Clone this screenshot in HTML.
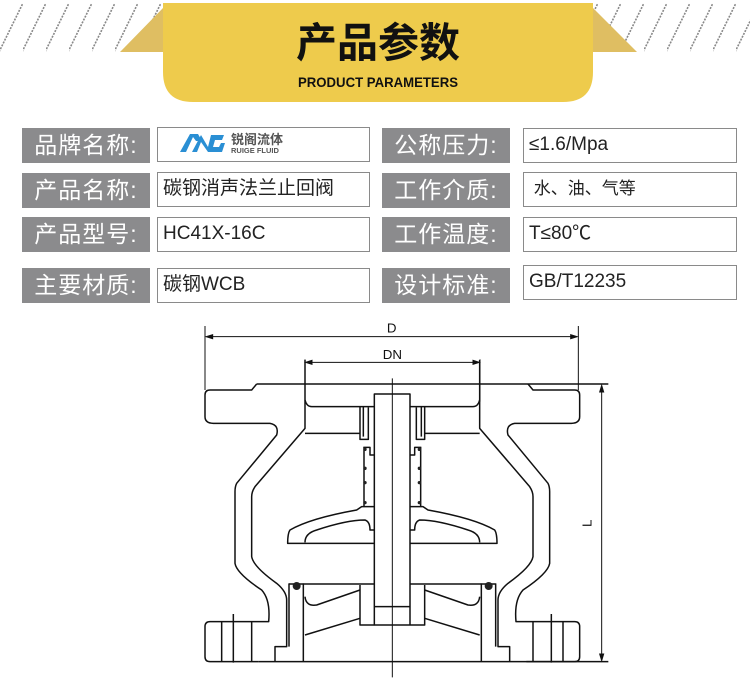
<!DOCTYPE html>
<html><head><meta charset="utf-8"><style>
body{margin:0;width:750px;height:695px;background:#fff;position:relative;overflow:hidden;font-family:"Liberation Sans","Noto Sans CJK SC",sans-serif}
.a{position:absolute}
.lab{position:absolute;background:#8b8b8d;color:#fff;font-size:23px;line-height:35px;height:35px;width:128px;text-align:center;letter-spacing:1px}
.val{position:absolute;border:1.5px solid #8a8a8a;box-sizing:border-box;height:35px;font-size:19px;line-height:32px;padding-left:5px;color:#222}
</style></head><body>
<svg class="a" style="left:0;top:0" width="750" height="110">
<defs><pattern id="st" width="23" height="49" patternUnits="userSpaceOnUse" x="0" y="3"><line x1="-1" y1="49" x2="23" y2="0" stroke="#888" stroke-width="1.6" stroke-dasharray="2 1.2"/></pattern></defs>
<rect x="0" y="3" width="750" height="49" fill="url(#st)"/>
<polygon points="120,52 163,8 163,52" fill="#dfbe62"/>
<polygon points="637,52 593,8 593,52" fill="#dfbe62"/>
<path d="M163,3 H593 V72 Q593,102 563,102 H193 Q163,102 163,72 Z" fill="#eecb4c"/>
<text x="378" y="57" text-anchor="middle" font-size="41" font-weight="bold" font-family="Noto Sans CJK SC,sans-serif" fill="#111">产品参数</text>
<text x="378" y="87" text-anchor="middle" font-size="14" font-weight="bold" fill="#111" textLength="160" lengthAdjust="spacingAndGlyphs">PRODUCT PARAMETERS</text>
</svg>
<div class="lab" style="left:22px;top:128px">品牌名称:</div>
<div class="lab" style="left:22px;top:173px">产品名称:</div>
<div class="lab" style="left:22px;top:217px">产品型号:</div>
<div class="lab" style="left:22px;top:268px">主要材质:</div>
<div class="lab" style="left:382px;top:128px">公称压力:</div>
<div class="lab" style="left:382px;top:173px">工作介质:</div>
<div class="lab" style="left:382px;top:217px">工作温度:</div>
<div class="lab" style="left:382px;top:268px">设计标准:</div>
<div class="val" style="left:157px;top:127px;width:213px"></div>
<svg class="a" style="left:178px;top:131px" width="125" height="24">
<path d="M2,21 L12,3 H20 L24,10 L18,10 L15,6 L8,21 Z" fill="#2a8fd4"/>
<path d="M14,21 L23,4 L30,16 L33,4 H46 L44,9 H37 L35,16 H41 L43,12 H47 L44,21 H30 L23,11 L19,21 Z" fill="#2a8fd4"/>
<text x="53" y="13" font-size="13" fill="#555" font-weight="bold" font-family="Noto Sans CJK SC,sans-serif">锐阁流体</text>
<text x="53" y="22" font-size="7.5" fill="#555" font-weight="bold">RUIGE FLUID</text>
</svg>
<div class="val" style="left:157px;top:172px;width:213px">碳钢消声法兰止回阀</div>
<div class="val" style="left:157px;top:217px;width:213px">HC41X-16C</div>
<div class="val" style="left:157px;top:268px;width:213px">碳钢WCB</div>
<div class="val" style="left:523px;top:128px;width:214px">≤1.6/Mpa</div>
<div class="val" style="left:523px;top:172px;width:214px;font-size:17px">&nbsp;水、油、气等</div>
<div class="val" style="left:523px;top:217px;width:214px">T≤80℃</div>
<div class="val" style="left:523px;top:265px;width:214px">GB/T12235</div>
<svg class="a" style="left:190px;top:310px" width="430" height="385" viewBox="0 0 1290 1155">
<g fill="none" stroke="#111" stroke-width="4.5" stroke-linejoin="round">
<g id="h">
<path d="M200,222 L185,240 H60 Q45,240 45,255 V320 Q45,340 70,340 H240 Q268,345 260,375 L140,520 Q135,530 135,545 V760 Q140,790 215,840 Q242,870 236,935 H60 Q45,935 45,950 V1040 Q45,1055 60,1055 H190 L205,1055"/>
<path d="M95,935 V1055 M185,935 V1055 M130,912 V1058"/>
<path d="M345,150 V355 L195,530 Q185,545 185,560 V740 Q190,770 260,820 Q290,845 290,870 V1010 H255 V1055"/>
<path d="M297,820 V1010 M340,820 V1055"/>
<path d="M345,270 Q350,290 365,290 H553"/>
<path d="M345,370 H510"/>
<path d="M510,290 V388 H535 V292 M520,290 V380"/>
<path d="M520,412 H540 V435 H553"/>
<path d="M522,412 V590"/>
<path d="M553,590 L515,590 L500,600 Q360,625 300,660 Q293,670 293,700 H553"/>
<path d="M345,697 Q345,670 380,660 Q470,630 525,630 Q540,635 540,660 H553"/>
<path d="M297,822 H553"/>
<path d="M345,860 Q348,890 380,885 L510,840"/>
<path d="M345,975 L510,925"/>
<path d="M510,825 V945 H553"/>
<path d="M553,890 H607"/>
</g>
<use href="#h" transform="translate(1214,0) scale(-1,1)"/>
<path d="M200,222 H1255 M205,1055 H1255"/>
<rect x="553" y="252" width="107" height="693"/>
</g>
<g fill="#222">
<circle cx="320" cy="828" r="12"/><circle cx="896" cy="828" r="12"/>
<circle cx="525" cy="418" r="5"/><circle cx="525" cy="475" r="5"/><circle cx="525" cy="518" r="5"/><circle cx="525" cy="578" r="5"/>
<circle cx="688" cy="418" r="5"/><circle cx="688" cy="475" r="5"/><circle cx="688" cy="518" r="5"/><circle cx="688" cy="578" r="5"/>
</g>
<g stroke="#111" stroke-width="3" fill="#111">
<line x1="607" y1="205" x2="607" y2="1102"/>
<line x1="45" y1="48" x2="45" y2="240"/><line x1="1165" y1="48" x2="1165" y2="240"/>
<line x1="50" y1="80" x2="1160" y2="80"/>
<polygon points="48,80 68,74 68,86"/><polygon points="1162,80 1142,74 1142,86"/>
<line x1="345" y1="148" x2="345" y2="200"/><line x1="870" y1="148" x2="870" y2="275"/>
<line x1="348" y1="157" x2="867" y2="157"/>
<polygon points="347,157 366,151 366,163"/><polygon points="868,157 849,151 849,163"/>
<line x1="1235" y1="228" x2="1235" y2="1050"/>
<polygon points="1235,226 1229,246 1241,246"/><polygon points="1235,1052 1229,1032 1241,1032"/>
</g>
<text x="605" y="68" text-anchor="middle" font-size="40" fill="#111">D</text>
<text x="607" y="147" text-anchor="middle" font-size="40" fill="#111">DN</text>
<text transform="translate(1205,640) rotate(-90)" text-anchor="middle" font-size="40" fill="#111">L</text>
</svg>
</body></html>
